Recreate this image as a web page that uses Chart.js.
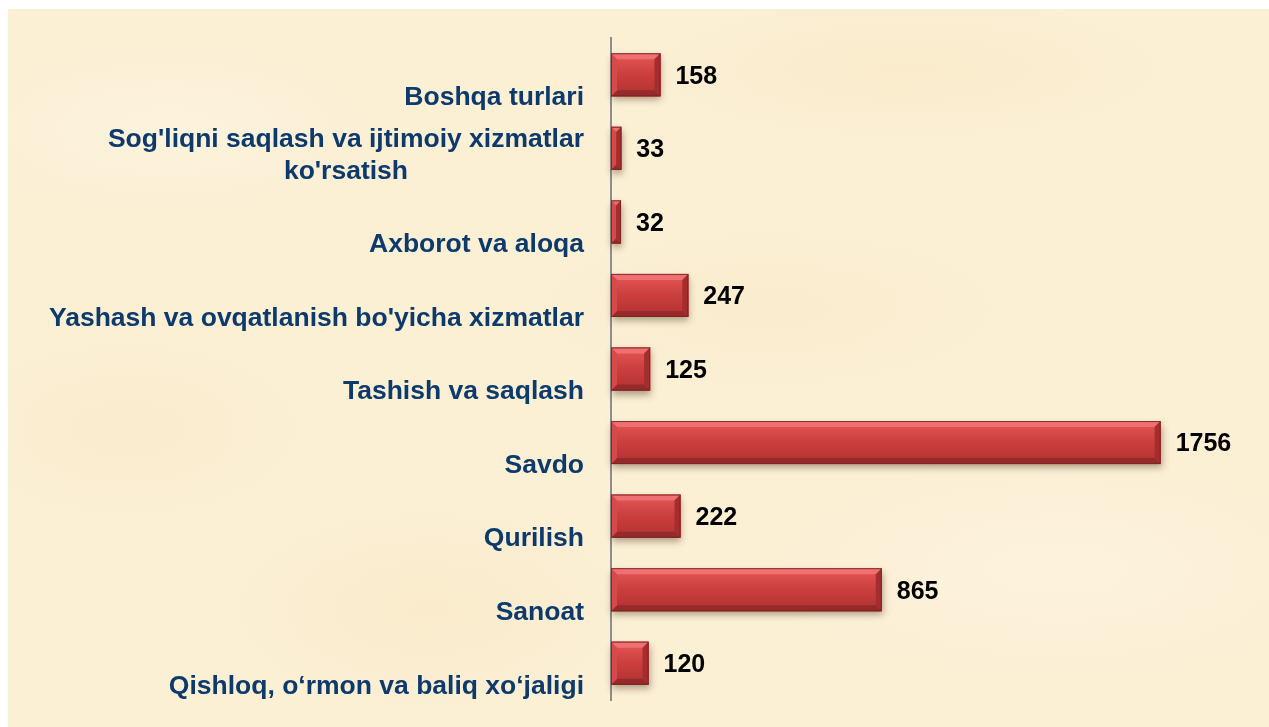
<!DOCTYPE html>
<html>
<head>
<meta charset="utf-8">
<script src="https://cdn.jsdelivr.net/npm/chart.js@4.4.1/dist/chart.umd.min.js"></script>
<style>
  html, body { margin: 0; padding: 0; background: #ffffff; }
  #bg {
    position: absolute; left: 8px; top: 9px; width: 1261px; height: 718px;
    background-color: #FBEFD4;
    background-image:
      radial-gradient(ellipse 220px 90px at 160px 120px, rgba(255,248,230,0.5), rgba(255,248,230,0)),
      radial-gradient(ellipse 260px 70px at 900px 60px, rgba(246,226,184,0.3), rgba(246,226,184,0)),
      radial-gradient(ellipse 300px 120px at 1050px 560px, rgba(255,247,228,0.5), rgba(255,247,228,0)),
      radial-gradient(ellipse 200px 100px at 420px 600px, rgba(245,225,182,0.28), rgba(245,225,182,0)),
      radial-gradient(ellipse 240px 80px at 760px 300px, rgba(247,229,190,0.28), rgba(247,229,190,0)),
      radial-gradient(ellipse 180px 90px at 120px 420px, rgba(246,227,186,0.25), rgba(246,227,186,0));
  }
  #wrap { position: absolute; left: 0; top: 0; width: 1269px; height: 727px; }
</style>
</head>
<body>
<div id="bg"></div>
<div id="wrap"><canvas id="c" width="1269" height="727"></canvas></div>
<script>
// ---- data ----
const categories = [
  "Boshqa turlari",
  ["Sog'liqni saqlash va ijtimoiy xizmatlar", "ko'rsatish"],
  "Axborot va aloqa",
  "Yashash va ovqatlanish bo'yicha xizmatlar",
  "Tashish va saqlash",
  "Savdo",
  "Qurilish",
  "Sanoat",
  "Qishloq, o\u2018rmon va baliq xo\u2018jaligi"
];
const values = [158, 33, 32, 247, 125, 1756, 222, 865, 120];

const FONT = "Arial, 'Liberation Sans', sans-serif";

const barStyle = {
  id: 'barStyle',
  afterDatasetsDraw(chart) {
    const ctx = chart.ctx;
    const meta = chart.getDatasetMeta(0);
    meta.data.forEach((el) => {
      const l = Math.min(el.base, el.x), r = Math.max(el.base, el.x);
      const t = el.y - el.height / 2, b = el.y + el.height / 2;
      const w = r - l, h = b - t;
      const bv = Math.min(6, w / 2);
      ctx.save();
      ctx.shadowColor = 'rgba(80,60,30,0.45)';
      ctx.shadowBlur = 7; ctx.shadowOffsetX = 1; ctx.shadowOffsetY = 4;
      ctx.fillStyle = '#C83C3C';
      ctx.fillRect(l, t, w, h);
      ctx.restore();
      ctx.save();
      const g = ctx.createLinearGradient(0, t, 0, b);
      g.addColorStop(0, '#E65858'); g.addColorStop(0.5, '#CB3E3E'); g.addColorStop(1, '#B03232');
      ctx.fillStyle = g; ctx.fillRect(l, t, w, h);
      const poly = (pts, col) => { ctx.beginPath(); ctx.moveTo(pts[0][0], pts[0][1]); for (let i = 1; i < pts.length; i++) ctx.lineTo(pts[i][0], pts[i][1]); ctx.closePath(); ctx.fillStyle = col; ctx.fill(); };
      poly([[l, t], [r, t], [r - bv, t + bv], [l + bv, t + bv]], '#EE7070');
      poly([[l, b], [r, b], [r - bv, b - bv], [l + bv, b - bv]], '#962A2A');
      poly([[l, t], [l + bv, t + bv], [l + bv, b - bv], [l, b]], '#D84A4A');
      poly([[r, t], [r - bv, t + bv], [r - bv, b - bv], [r, b]], '#A42E2E');
      ctx.strokeStyle = 'rgba(120,35,35,0.85)'; ctx.lineWidth = 1;
      ctx.strokeRect(l + 0.5, t + 0.5, w - 1, h - 1);
      ctx.restore();
    });
  },
  afterDraw(chart) {
    const ctx = chart.ctx;
    const meta = chart.getDatasetMeta(0);
    const ys = chart.scales.y;
    ctx.save();
    ctx.font = 'bold 25px ' + FONT;
    ctx.fillStyle = '#000000';
    ctx.textAlign = 'left'; ctx.textBaseline = 'middle';
    meta.data.forEach((el, i) => {
      ctx.fillText(String(values[i]), Math.max(el.base, el.x) + 15, el.y + 2);
    });
    ctx.font = 'bold 26.5px ' + FONT;
    ctx.fillStyle = '#0D3A6C';
    ctx.textAlign = 'center';
    const lh = 32;
    const rightEdge = ys.right - 27;
    categories.forEach((lab, i) => {
      const lines = Array.isArray(lab) ? lab : [lab];
      const y = ys.getPixelForValue(i) + 23;
      const maxW = Math.max(...lines.map(s => ctx.measureText(s).width));
      const cx = rightEdge - maxW / 2;
      lines.forEach((s, k) => {
        ctx.fillText(s, cx, y - (lines.length - 1 - k) * lh);
      });
    });
    ctx.restore();
  }
};

new Chart(document.getElementById('c'), {
  type: 'bar',
  data: {
    labels: categories,
    datasets: [{
      data: values,
      backgroundColor: '#C83C3C',
      borderWidth: 0,
      barPercentage: 0.585,
      categoryPercentage: 1
    }]
  },
  options: {
    indexAxis: 'y',
    responsive: false,
    animation: false,
    layout: { padding: { left: 0, top: 38, bottom: 27, right: 32 } },
    plugins: { legend: { display: false }, tooltip: { enabled: false } },
    scales: {
      x: { display: false, min: 0, max: 2000 },
      y: {
        grid: { display: false },
        border: { display: true, color: '#8E8E8E', width: 2 },
        ticks: { display: false },
        afterFit(scale) { scale.width = 611; }
      }
    }
  },
  plugins: [barStyle]
});
</script>
</body>
</html>
